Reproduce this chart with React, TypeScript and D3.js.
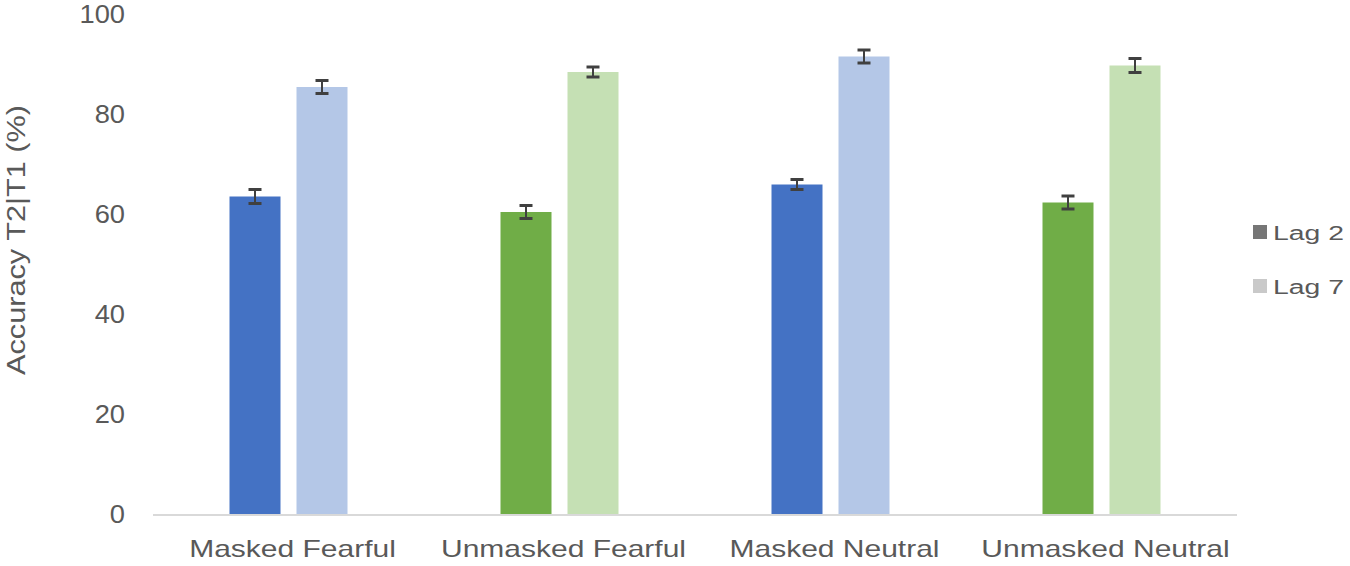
import React from "react";
import * as d3 from "d3";

const categories = ["Masked Fearful", "Unmasked Fearful", "Masked Neutral", "Unmasked Neutral"];
const seriesNames = ["Lag 2", "Lag 7"];
const lag2Values = [63.7, 60.6, 66.1, 62.5];
const lag7Values = [85.6, 88.6, 91.7, 89.9];
const lag2Errors = [1.4, 1.3, 1.0, 1.3];
const lag7Errors = [1.3, 1.0, 1.3, 1.4];
const yTicks = [0, 20, 40, 60, 80, 100];

const lag2Colors = ["#4472C4", "#70AD47", "#4472C4", "#70AD47"];
const lag7Colors = ["#B4C7E7", "#C5E0B4", "#B4C7E7", "#C5E0B4"];
const legendColors = ["#767676", "#C9C9C9"];

const W = 1350;
const H = 566;
const left = 153;
const right = 1237;
const top = 15;
const bottom = 515;
const font = "'Liberation Sans', Arial, sans-serif";
const textColor = "#595959";

export default function App() {
  const x = d3.scaleBand<string>().domain(categories).range([left, right]).paddingInner(0).paddingOuter(0);
  const y = d3.scaleLinear().domain([0, 100]).range([bottom, top]);
  const barW = 51;
  const gap = 16;
  const series = [
    { values: lag2Values, errors: lag2Errors, colors: lag2Colors, offset: -(gap / 2 + barW) },
    { values: lag7Values, errors: lag7Errors, colors: lag7Colors, offset: gap / 2 },
  ];
  return (
    <svg width={W} height={H} style={{ position: "absolute", left: 0, top: 0, background: "#fff" }} fontFamily={font}>
      {yTicks.map((t) => (
        <g key={t} transform={`translate(125, ${y(t) - 1}) scale(1.05, 1)`}>
          <text x={0} y={0} dy="0.35em" textAnchor="end" fontSize={26} fill={textColor}>
            {t}
          </text>
        </g>
      ))}
      <g transform={`translate(25, 240) rotate(-90) scale(1.18, 1)`}>
        <text x={0} y={0} textAnchor="middle" fontSize={26} fill={textColor}>
          Accuracy T2|T1 (%)
        </text>
      </g>
      {series.map((s, si) =>
        categories.map((c, i) => {
          const cx = (x(c) as number) + x.bandwidth() / 2;
          const bx = cx + s.offset;
          const v = s.values[i];
          const e = s.errors[i];
          const mx = bx + barW / 2;
          return (
            <g key={`${si}-${i}`}>
              <rect x={bx} y={y(v)} width={barW} height={y(0) - y(v)} fill={s.colors[i]} />
              <line x1={mx} x2={mx} y1={y(v + e)} y2={y(v - e)} stroke="#404040" strokeWidth={2} />
              <line x1={mx - 6.5} x2={mx + 6.5} y1={y(v + e)} y2={y(v + e)} stroke="#404040" strokeWidth={3} />
              <line x1={mx - 6.5} x2={mx + 6.5} y1={y(v - e)} y2={y(v - e)} stroke="#404040" strokeWidth={3} />
            </g>
          );
        })
      )}
      <line x1={left} x2={right} y1={y(0)} y2={y(0)} stroke="#D9D9D9" strokeWidth={2} />
      {categories.map((c) => (
        <g key={c} transform={`translate(${(x(c) as number) + x.bandwidth() / 2 + 4}, 557) scale(1.25, 1)`}>
          <text x={0} y={0} textAnchor="middle" fontSize={24} fill={textColor}>
            {c}
          </text>
        </g>
      ))}
      {seriesNames.map((n, i) => (
        <g key={n} transform={`translate(1253, ${232 + i * 54})`}>
          <rect x={0} y={-7} width={14} height={14} fill={legendColors[i]} />
          <g transform="translate(20, 7.5) scale(1.35, 1)">
            <text x={0} y={0} fontSize={21} fill={textColor}>
              {n}
            </text>
          </g>
        </g>
      ))}
    </svg>
  );
}
